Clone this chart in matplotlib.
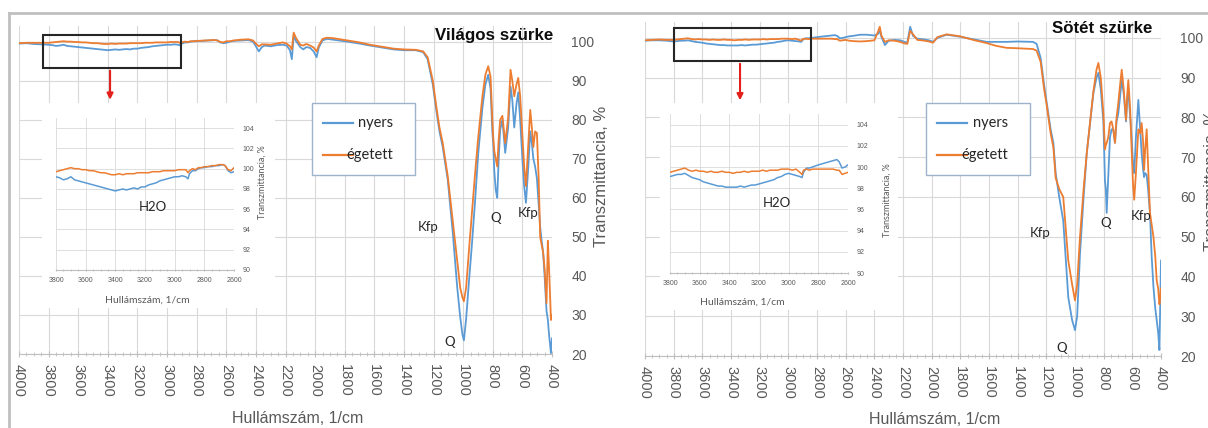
import matplotlib.pyplot as plt
from matplotlib.patches import Rectangle
from matplotlib.lines import Line2D
from matplotlib.ticker import MultipleLocator

plt.rcParams['font.family'] = ['Liberation Sans', 'DejaVu Sans']

W, H = 1208, 428
BLUE = '#5b9bd5'
ORANGE = '#ed7d31'
GRID = '#d9d9d9'
AXIS = '#bfbfbf'
TXT = '#595959'
CAL = ['Lato', 'DejaVu Sans']

TITLES = ['Világos szürke', 'Sötét szürke']
SERIES = ['nyers', 'égetett']
XLABEL = 'Hullámszám, 1/cm'
YLABEL = 'Transzmittancia, %'

# wavenumbers, 1/cm
WN_HEAD = [4000, 3950, 3900, 3850]
WN_H2O = [3800, 3775, 3750, 3725, 3700, 3675, 3650, 3625, 3600, 3575,
          3550, 3525, 3500, 3475, 3450, 3425, 3400, 3375, 3350, 3325,
          3300, 3275, 3250, 3225, 3200, 3175, 3150, 3125, 3100, 3075,
          3050, 3025, 3000, 2975, 2950, 2925, 2910, 2900, 2880, 2860,
          2840, 2820, 2800, 2775, 2750, 2725, 2700, 2675, 2660, 2640,
          2620, 2600]
WN_VS_TAIL = [2575, 2550, 2500, 2450, 2420, 2400, 2380, 2360, 2340, 2300,
              2260, 2220, 2192, 2170, 2157, 2145, 2130, 2100, 2080, 2060,
              2034, 2010, 1990, 1975, 1950, 1920, 1880, 1800, 1700, 1630,
              1550, 1470, 1400, 1320, 1270, 1240, 1205, 1180, 1160, 1138,
              1104, 1070, 1040, 1020, 1005, 995, 980, 960, 941, 920,
              898, 870, 850, 831, 815, 803, 797, 790, 780, 770,
              760, 750, 735, 716, 696, 680, 668, 655, 640, 628,
              615, 600, 588, 576, 560, 547, 536, 526, 514, 502,
              490, 480, 470, 460, 450, 437, 428, 420, 407, 400]
WN_SS_TAIL = [2575, 2550, 2500, 2450, 2400, 2375, 2362, 2350, 2326, 2300,
              2260, 2220, 2190, 2170, 2150, 2130, 2100, 2050, 2020, 1990,
              1960, 1895, 1802, 1700, 1616, 1550, 1477, 1400, 1293, 1268,
              1240, 1215, 1197, 1170, 1151, 1135, 1110, 1082, 1060, 1047,
              1020, 1000, 985, 965, 940, 918, 890, 872, 850, 837,
              820, 802, 791, 785, 779, 768, 756, 745, 733, 721,
              710, 698, 686, 674, 660, 644, 635, 628, 615, 605,
              595, 587, 575, 558, 545, 535, 525, 518, 510, 500,
              490, 477, 465, 453, 440, 430, 420, 411, 404, 400]

# Világos szürke, transmittance %
VS_NYERS = [99.5, 99.6, 99.4, 99.3,
            99.2, 99.1, 98.9, 99.0, 99.2, 98.9, 98.8, 98.7, 98.6, 98.5,
            98.4, 98.3, 98.2, 98.1, 98.0, 97.9, 97.8, 97.9, 98.0, 97.9,
            98.0, 98.1, 98.0, 98.2, 98.2, 98.4, 98.5, 98.6, 98.8, 98.9,
            99.0, 99.1, 99.2, 99.2, 99.3, 99.2, 99.0, 99.5, 99.8, 99.8,
            100.0, 100.1, 100.1, 100.2, 100.2, 100.3, 100.3, 100.4, 100.3, 99.8,
            99.6, 99.7,
            100.0, 100.2, 100.3, 100.4, 100.0, 98.8, 97.5, 98.6, 99.0, 98.8,
            99.1, 99.2, 99.0, 97.8, 95.5, 101.5, 100.2, 98.6, 98.0, 98.6,
            98.4, 97.5, 96.0, 98.5, 100.3, 100.7, 100.5, 100.1, 99.5, 99.0,
            98.5, 98.0, 97.8, 97.8, 97.3, 95.5, 89.0, 82.0, 77.0, 73.0,
            64.6, 51.0, 37.0, 29.5, 25.0, 23.5, 29.0, 39.0, 48.0, 59.0,
            71.5, 83.0, 89.0, 91.5, 88.0, 77.0, 74.0, 67.0, 62.0, 60.0,
            70.0, 77.4, 80.0, 71.5, 78.0, 88.5, 85.0, 78.0, 84.0, 87.0,
            80.0, 70.0, 63.0, 58.7, 68.0, 77.0, 74.0, 70.0, 68.0, 65.0,
            58.0, 52.6, 49.0, 46.0, 40.0, 31.0, 28.8, 25.0, 20.2, 24.0]
VS_EGETETT = [99.6, 99.7, 99.7, 99.7,
              99.7, 99.8, 99.9, 100.0, 100.1, 100.0, 100.0, 99.9, 99.9, 99.8,
              99.8, 99.7, 99.6, 99.6, 99.5, 99.4, 99.4, 99.5, 99.4, 99.5,
              99.5, 99.5, 99.6, 99.6, 99.6, 99.6, 99.7, 99.7, 99.7, 99.8,
              99.8, 99.8, 99.8, 99.9, 99.9, 99.9, 99.6, 99.8, 100.0, 99.9,
              100.1, 100.1, 100.2, 100.2, 100.3, 100.3, 100.4, 100.4, 100.3, 99.9,
              99.8, 100.1,
              100.1, 100.3, 100.5, 100.6, 100.3, 99.5, 98.8, 99.3, 99.3, 99.2,
              99.5, 99.8, 99.5, 98.8, 98.0, 102.3, 101.0, 99.2, 99.0, 99.4,
              99.0, 98.5, 97.5, 99.0, 100.7, 101.0, 100.9, 100.4, 99.8, 99.2,
              98.7, 98.2, 98.0, 97.9, 97.5, 96.0, 90.0, 83.0, 78.0, 74.0,
              65.5, 54.0, 44.0, 37.0, 34.5, 33.5, 37.0, 47.0, 56.0, 66.0,
              75.6, 86.0, 91.5, 93.7, 91.0, 80.0, 75.6, 72.0, 70.0, 68.0,
              75.0, 80.0, 81.0, 74.0, 80.5, 92.8, 90.0, 86.0, 89.0, 90.7,
              86.0, 76.0, 68.0, 63.0, 74.0, 82.5, 78.0, 73.0, 77.0, 76.6,
              65.0, 50.0, 48.0, 46.0, 42.0, 33.0, 49.0, 42.0, 28.7, 30.0]

# Sötét szürke, transmittance %
SS_NYERS = [99.3, 99.4, 99.4, 99.3,
            99.1, 99.2, 99.3, 99.3, 99.4, 99.2, 99.0, 98.9, 98.8, 98.6,
            98.5, 98.4, 98.3, 98.2, 98.2, 98.1, 98.1, 98.1, 98.1, 98.2,
            98.1, 98.2, 98.3, 98.3, 98.4, 98.5, 98.6, 98.7, 98.8, 99.0,
            99.1, 99.3, 99.4, 99.3, 99.2, 99.1, 99.0, 99.5, 99.9, 99.9,
            100.0, 100.1, 100.2, 100.3, 100.4, 100.5, 100.6, 100.7, 100.5, 99.9,
            100.0, 100.2,
            100.4, 100.5, 100.8, 100.8, 100.6, 101.0, 101.8, 100.2, 98.2, 99.3,
            99.5, 99.4, 99.0, 98.8, 102.8, 100.5, 99.8, 99.6, 99.4, 99.0,
            100.0, 100.8, 100.3, 99.6, 99.0, 99.0, 99.0, 99.1, 99.0, 98.5,
            95.0, 88.0, 83.6, 77.0, 73.6, 66.0, 60.0, 54.0, 42.0, 34.8,
            29.0, 26.5, 30.0, 45.8, 60.0, 71.0, 80.0, 86.0, 90.0, 91.2,
            87.0, 79.0, 64.0, 62.0, 56.0, 65.0, 75.0, 77.0, 77.0, 73.6,
            79.0, 81.0, 85.0, 89.4, 86.0, 79.0, 85.0, 86.7, 80.0, 75.0,
            68.0, 66.0, 75.0, 84.4, 77.0, 71.0, 67.0, 65.0, 66.0, 65.5,
            62.0, 56.0, 45.0, 37.5, 32.0, 29.0, 26.0, 21.5, 35.0, 44.0]
SS_EGETETT = [99.4, 99.5, 99.6, 99.5,
              99.5, 99.6, 99.7, 99.8, 99.9, 99.7, 99.6, 99.7, 99.6, 99.6,
              99.5, 99.6, 99.5, 99.5, 99.6, 99.5, 99.5, 99.4, 99.5, 99.5,
              99.6, 99.5, 99.6, 99.6, 99.6, 99.7, 99.6, 99.7, 99.7, 99.7,
              99.8, 99.8, 99.8, 99.7, 99.8, 99.5, 99.3, 99.7, 99.8, 99.7,
              99.8, 99.8, 99.8, 99.8, 99.8, 99.8, 99.8, 99.7, 99.7, 99.3,
              99.4, 99.5,
              99.3, 99.2, 99.1, 99.2, 99.4, 101.5, 102.8, 100.5, 99.0, 99.4,
              99.3, 99.0, 98.6, 98.5, 101.8, 100.9, 99.5, 99.3, 99.1, 98.8,
              100.2, 100.9, 100.4, 99.4, 98.7, 98.0, 97.5, 97.4, 97.2, 96.8,
              94.0, 87.0, 83.0, 76.0, 72.5, 64.8, 62.0, 60.0, 50.0, 44.0,
              38.0, 34.0, 38.0, 50.0, 62.0, 71.0, 80.5, 86.5, 92.0, 93.7,
              90.0, 81.0, 72.0, 73.0, 73.6, 75.0, 78.6, 79.0, 77.0, 73.6,
              80.0, 83.6, 88.0, 92.0, 87.0, 79.4, 86.0, 89.4, 82.0, 72.0,
              63.0, 59.3, 66.0, 77.0, 76.0, 78.6, 74.0, 66.8, 72.0, 77.0,
              68.0, 56.0, 53.0, 50.0, 45.0, 39.0, 37.0, 33.0, 35.0, 37.0]

# peak assignments (wavenumber, transmittance)
VS_PEAKS = [('Kfp', 1236, 52.6), ('Q', 1088, 23.0), ('Q', 777, 54.9), ('Kfp', 561, 56.2)]
SS_PEAKS = [('Kfp', 1244, 50.9), ('Q', 1095, 22.0), ('Q', 787, 53.5), ('Kfp', 538, 55.2)]
H2O_LABEL = [('H2O', 3146, 96.2), ('H2O', 3079, 96.6)]


def box(x0, y0, x1, y1):
    return [x0 / W, 1 - y1 / H, (x1 - x0) / W, (y1 - y0) / H]


panels = [
    dict(title=TITLES[0], wn=WN_HEAD + WN_H2O + WN_VS_TAIL, ys=(VS_NYERS, VS_EGETETT),
         peaks=VS_PEAKS, h2o=H2O_LABEL[0],
         main=(19, 26, 552, 354), title_xy=(1.002, 0.97),
         xlab_xy=(0.522, -0.196), ylab_xy=(1.0925, 0.543),
         white=(42, 103, 275, 308), inset=(56, 118, 234, 270),
         in_xlab=(0.511, -0.197), in_ylab=(1.157, 0.579),
         zoom_box=(3838, 2905, 93.3, 101.8), arrow_x=3385, arrow_y=84.4,
         legend=(312, 103, 415, 175)),
    dict(title=TITLES[1], wn=WN_HEAD + WN_H2O + WN_SS_TAIL, ys=(SS_NYERS, SS_EGETETT),
         peaks=SS_PEAKS, h2o=H2O_LABEL[1],
         main=(645, 22, 1161, 356), title_xy=(0.983, 0.982),
         xlab_xy=(0.562, -0.19), ylab_xy=(1.097, 0.527),
         white=(660, 103, 898, 310), inset=(670, 114, 848, 273),
         in_xlab=(0.404, -0.182), in_ylab=(1.219, 0.459),
         zoom_box=(3801, 2845, 94.2, 102.5), arrow_x=3337, arrow_y=83.6,
         legend=(926, 103, 1030, 175)),
]

fig = plt.figure(figsize=(W / 100, H / 100), dpi=100)

for p in panels:
    ax = fig.add_axes(box(*p['main']), zorder=0)
    for y, c, name in zip(p['ys'], (BLUE, ORANGE), SERIES):
        ax.plot(p['wn'], y, color=c, lw=1.3, label=name)
    ax.set_xlim(4000, 400)
    ax.set_ylim(20, 104)
    ax.set_xticks(range(4000, 399, -200))
    ax.set_yticks(range(20, 101, 10))
    ax.xaxis.set_minor_locator(MultipleLocator(50))
    ax.grid(color=GRID, lw=0.8)
    ax.set_axisbelow(True)
    ax.yaxis.tick_right()
    for s in ('top', 'left', 'right'):
        ax.spines[s].set_visible(False)
    ax.spines['bottom'].set_color(AXIS)
    ax.tick_params(axis='y', length=0, pad=14, labelsize=10, labelcolor=TXT)
    ax.tick_params(axis='x', which='major', length=4, direction='inout', color=AXIS,
                   labelrotation=270, labelsize=10.5, labelcolor=TXT, pad=5)
    ax.tick_params(axis='x', which='minor', length=3, direction='inout', color=AXIS)
    ax.set_xlabel(XLABEL, fontsize=11.5, color=TXT, va='center')
    ax.xaxis.set_label_coords(*p['xlab_xy'])
    ax.set_ylabel(YLABEL, fontsize=12, color=TXT, rotation=90, va='center')
    ax.yaxis.set_label_coords(*p['ylab_xy'])
    ax.text(*p['title_xy'], p['title'], transform=ax.transAxes, ha='right', va='center',
            fontsize=12.2, fontweight='bold', color='#0d0d0d')
    for lab, x, y in p['peaks']:
        ax.text(x, y, lab, ha='center', va='center', fontsize=9.5, color='#262626', family=CAL)

    # marked water region and arrow to the zoomed view
    x0, x1, y0, y1 = p['zoom_box']
    ax.add_patch(Rectangle((x0, y0), x1 - x0, y1 - y0, fill=False, ec='#262626', lw=1.5, zorder=4))
    ax.annotate('', xy=(p['arrow_x'], p['arrow_y']), xytext=(p['arrow_x'], y0),
                arrowprops=dict(arrowstyle='-|>', color='#e3201b', lw=1.5, mutation_scale=9),
                annotation_clip=False)

    # white chart area behind the inset
    wx0, wy0, wx1, wy1 = p['white']
    fig.add_artist(Rectangle((wx0 / W, 1 - wy1 / H), (wx1 - wx0) / W, (wy1 - wy0) / H,
                             transform=fig.transFigure, fc='white', ec='none', zorder=1))

    ins = fig.add_axes(box(*p['inset']), zorder=2)
    for y, c in zip(p['ys'], (BLUE, ORANGE)):
        ins.plot(p['wn'], y, color=c, lw=1.1)
    ins.set_xlim(3800, 2600)
    ins.set_ylim(90, 105)
    ins.set_xticks(range(3800, 2599, -200))
    ins.set_yticks(range(90, 105, 2))
    ins.xaxis.set_minor_locator(MultipleLocator(50))
    ins.grid(color=GRID, lw=0.6)
    ins.set_axisbelow(True)
    ins.yaxis.tick_right()
    for s in ('top', 'left', 'right'):
        ins.spines[s].set_visible(False)
    ins.spines['bottom'].set_color(AXIS)
    ins.tick_params(axis='y', length=0, pad=6, labelsize=5, labelcolor=TXT)
    ins.tick_params(axis='x', which='both', length=2, direction='inout', color=AXIS,
                    labelsize=5, labelcolor=TXT, pad=4)
    ins.set_xlabel(XLABEL, fontsize=7.5, color=TXT, family=CAL, va='center')
    ins.xaxis.set_label_coords(*p['in_xlab'])
    ins.set_ylabel(YLABEL, fontsize=6.5, color=TXT, family=CAL, va='center')
    ins.yaxis.set_label_coords(*p['in_ylab'])
    lab, x, y = p['h2o']
    ins.text(x, y, lab, ha='center', va='center', fontsize=9.5, color='#262626', family=CAL)

    # legend box
    lx0, ly0, lx1, ly1 = p['legend']
    fig.add_artist(Rectangle((lx0 / W, 1 - ly1 / H), (lx1 - lx0) / W, (ly1 - ly0) / H,
                             transform=fig.transFigure, fc='white', ec='#9db3cc', lw=1, zorder=1))
    for k, (c, name) in enumerate(zip((BLUE, ORANGE), SERIES)):
        yy = 1 - (ly0 + 20 + 32 * k) / H
        fig.add_artist(Line2D([(lx0 + 11) / W, (lx0 + 41) / W], [yy, yy], color=c, lw=1.6, zorder=3))
        fig.text((lx1 - 22) / W, yy, name, ha='right', va='center', fontsize=10.5,
                 color='#262626', family=CAL, zorder=3)

# outer frame
fig.add_artist(Line2D([9 / W, 1], [1 - 13 / H] * 2, color='#c0c0c0', lw=2))
fig.add_artist(Line2D([9 / W] * 2, [0, 1 - 13 / H], color='#c0c0c0', lw=2))

fig.savefig('out.png', dpi=100)
